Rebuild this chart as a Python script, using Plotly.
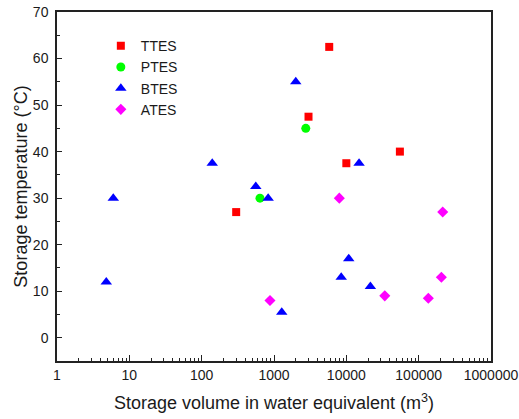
import plotly.graph_objects as go

# ---- data (storage volume in m3 water equivalent, storage temperature in °C)
ttes_vol = [5800, 3000, 10000, 55000, 300]
ttes_temp = [62.5, 47.5, 37.5, 40.0, 27.0]

ptes_vol = [2750, 640]
ptes_temp = [45.0, 30.0]

btes_vol = [2000, 140, 15000, 560, 830, 6, 4.8, 1280, 8500, 10800, 21500]
btes_temp = [55.0, 37.5, 37.5, 32.5, 30.0, 30.0, 12.0, 5.5, 13.0, 17.0, 11.0]

ates_vol = [8000, 215000, 880, 34000, 136000, 206000]
ates_temp = [30.0, 27.0, 8.0, 9.0, 8.5, 13.0]

x_tickvals = [1, 10, 100, 1000, 10000, 100000, 1000000]
x_ticktext = ["1", "10", "100", "1000", "10000", "100000", "1000000"]
y_tickvals = [0, 10, 20, 30, 40, 50, 60, 70]

FONT = "Liberation Sans, Arial, sans-serif"
TXT = "#1a1a1a"
LINE = "#222222"

fig = go.Figure()
fig.add_trace(go.Scatter(x=ttes_vol, y=ttes_temp, mode="markers", name="TTES",
                         marker=dict(symbol="square", size=8, color="#FF0000")))
fig.add_trace(go.Scatter(x=ptes_vol, y=ptes_temp, mode="markers", name="PTES",
                         marker=dict(symbol="circle", size=9, color="#00FF00")))
fig.add_trace(go.Scatter(x=btes_vol, y=btes_temp, mode="markers", name="BTES",
                         marker=dict(symbol="triangle-up", size=10, color="#0000FF")))
fig.add_trace(go.Scatter(x=ates_vol, y=ates_temp, mode="markers", name="ATES",
                         marker=dict(symbol="diamond", size=8.5, color="#FF00FF")))

axis_common = dict(showline=True, linecolor=LINE, linewidth=1.5, mirror=True,
                   showgrid=False, zeroline=False, ticks="inside", tickcolor=LINE,
                   automargin=False, ticklabeloverflow="allow",
                   tickfont=dict(family=FONT, size=14, color=TXT))

fig.update_layout(
    width=519, height=419,
    margin=dict(l=57, r=28, t=12, b=58),
    paper_bgcolor="white", plot_bgcolor="white",
    font=dict(family=FONT, color=TXT),
    showlegend=True,
    legend=dict(x=0.101, y=0.948, xanchor="left", yanchor="top",
                font=dict(family=FONT, size=14, color=TXT),
                bgcolor="rgba(0,0,0,0)", tracegroupgap=0),
    xaxis=dict(type="log", range=[0, 6], tickvals=x_tickvals, ticktext=x_ticktext,
               ticklen=6, tickwidth=1.2,
               minor=dict(ticks="inside", ticklen=3, tickcolor=LINE, dtick="D1", showgrid=False),
               title=dict(text="Storage volume in water equivalent (m<sup>3</sup>)",
                          font=dict(family=FONT, size=18, color=TXT), standoff=15),
               **axis_common),
    yaxis=dict(range=[-5, 70], tickvals=y_tickvals, ticklen=5, tickwidth=1.2,
               ticklabelstandoff=4,
               minor=dict(ticks="inside", ticklen=3, tickcolor=LINE, dtick=5, showgrid=False),
               title=dict(text="Storage temperature (°C)",
                          font=dict(family=FONT, size=18, color=TXT), standoff=1),
               **axis_common),
)

# remove the default 8px page margin so the figure fills the window
fig.write_html("out.html", config={"displayModeBar": False},
               post_script="document.body.style.margin='0';")
